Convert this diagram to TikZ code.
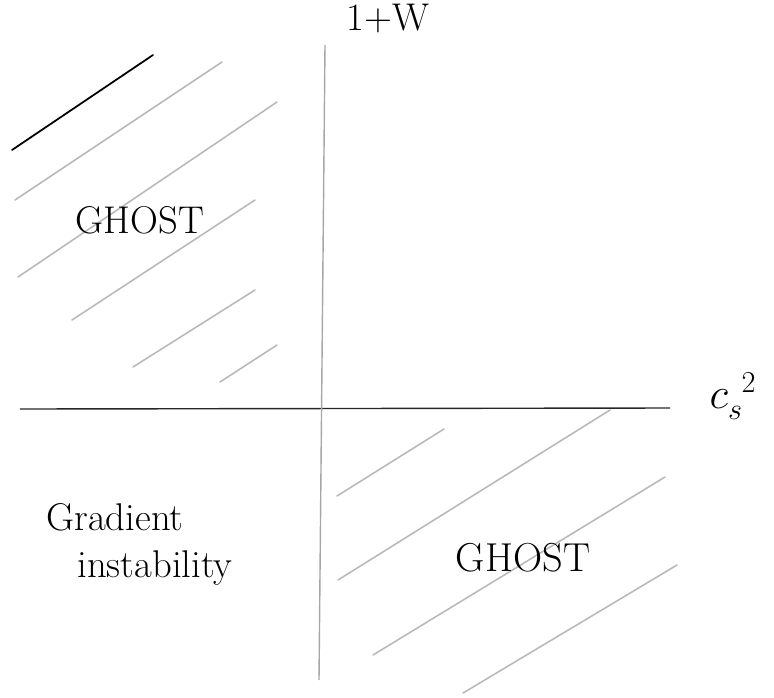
\documentclass[tikz,border=0pt]{standalone}
\usepackage{tikz}
\usetikzlibrary{positioning}
\tikzset{
  hatch/.style={gray!55,line width=0.9pt,line cap=round},
  axisline/.style={black!85,line width=0.8pt},
  sketch/.style={font=\fontsize{22}{26}\selectfont,inner sep=0pt},
}

\begin{document}
\begin{tikzpicture}[x=0.02cm,y=-0.02cm]
  \useasboundingbox (0,0) rectangle (774,697);
  % axes
  \coordinate (xl) at (20,409);
  \coordinate (xr) at (670,408);
  \coordinate (yt) at (325,45);
  \coordinate (yb) at (319,680);
  \draw[axisline] (xl) -- (xr);
  \draw[gray!70,line width=0.8pt] (yt) -- (yb);
  \node[sketch] (wlbl) at (388,19) {1+W};
  \node[sketch,font=\fontsize{24}{28}\selectfont] (cslbl) at (733,396) {$c_s^{\;\,2}$};
  % hatching, upper left
  \draw[black,line width=1pt,line cap=round] (12,150) -- (153,55);
  \foreach \xa/\ya/\xb/\yb in {15/200/222/62,18/277/277/102,72/320/255/200,
                               133/367/255/290,220/382/277/345}
    \draw[hatch] (\xa,\ya) -- (\xb,\yb);
  % hatching, lower right
  \foreach \xa/\ya/\xb/\yb in {337/496/444/429,338/580/610/410,
                               373/655/665/477,463/693/677/565}
    \draw[hatch] (\xa,\ya) -- (\xb,\yb);
  \node[sketch] (ghostup) at (140,220) {GHOST};
  \node[sketch,font=\fontsize{23}{27}\selectfont] (ghostlow) at (523,558) {GHOST};
  \node[sketch] (grad) at (115,517) {Gradient};
  \node[sketch] (instab) at (155,568) {instability};
\end{tikzpicture}
\end{document}
